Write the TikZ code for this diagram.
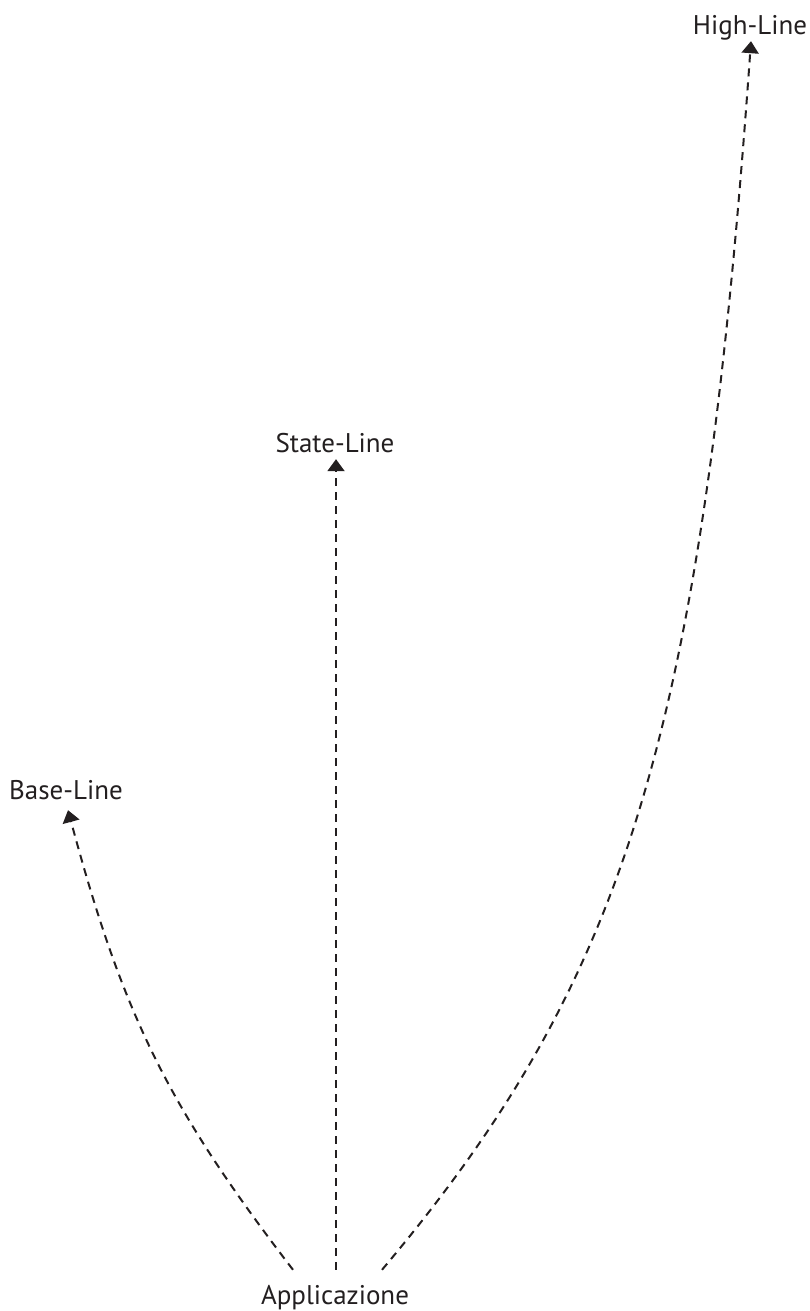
\documentclass[tikz,border=0pt]{standalone}
\usepackage{fontspec}
\setmainfont{PT Sans}
\usepackage{xcolor}
\usepackage{tikz}
\usetikzlibrary{arrows.meta}
\definecolor{inkdark}{RGB}{35,31,32}
\tikzset{
  linelabel/.style={font=\fontsize{27}{32}\selectfont, text=inkdark, anchor=base,
                    inner xsep=0pt, inner ysep=6pt, text depth=0pt},
  rootlabel/.style={linelabel, text height=20pt, inner ysep=15pt},
  dasharr/.style={-{Triangle[length=12pt,width=17pt]}, line width=2pt,
                  color=inkdark, dash pattern=on 8pt off 6pt},
}
\begin{document}
\begin{tikzpicture}[x=1pt,y=1pt]
  \useasboundingbox (0,0) rectangle (810,1311);
  \node[rootlabel] (app) at (335,6) {Applicazione};
  \node[linelabel] (base) at (66,511) {Base-Line};
  \node[linelabel] (state) at (335,858) {State-Line};
  \node[linelabel] (high) at (750,1276) {High-Line};
  \draw[dasharr] ([xshift=-42pt]app.north) .. controls (168,204) and (123,296)
       .. ([xshift=2pt,yshift=-4pt]base.south);
  \draw[dasharr] ([xshift=1pt]app.north) -- ([xshift=1pt]state.south);
  \draw[dasharr] ([xshift=47pt]app.north) .. controls (628,333) and (702,579)
       .. ([xshift=1pt]high.south);
\end{tikzpicture}
\end{document}
